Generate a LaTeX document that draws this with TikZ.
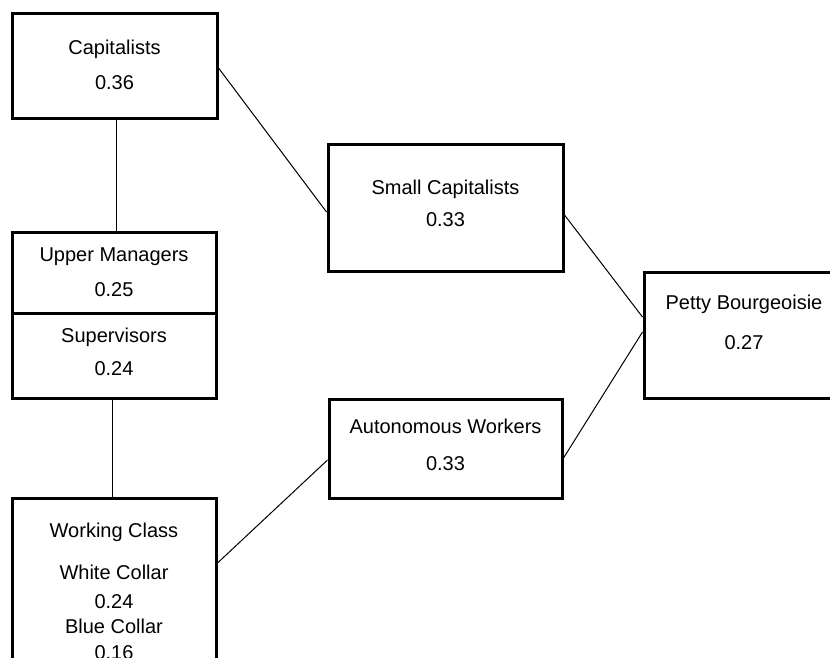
\documentclass[tikz,border=0pt]{standalone}
\usepackage{fontspec}
\setmainfont{Liberation Sans}
\usepackage{tikz}
\usetikzlibrary{positioning}
\newdimen\px
\px=0.75pt

\begin{document}
\begin{tikzpicture}[
  x=1\px, y=-1\px,
  box/.style={draw,line width=3\px,align=center,inner sep=0pt,font=\fontsize{15}{18}\selectfont},
  link/.style={line width=1\px}
]
\useasboundingbox (0,0) rectangle (830,657);
\clip (0,0) rectangle (830,657);
\node[box, minimum width=205\px, minimum height=105\px, text depth=1.5pt] (cap) at (114.5,65.5) {Capitalists\\[8.25pt]0.36};
\node[box, minimum width=204\px, minimum height=81\px] (um) at (114,272.5) {Upper Managers\\[8.25pt]0.25};
\node[box, minimum width=204\px, minimum height=85\px, text depth=6pt] (sup) at (114,355.5) {Supervisors\\[6.75pt]0.24};
\node[box, minimum width=204\px, minimum height=186\px] (wc) at (114,591) {Working Class\\[13.5pt]White Collar\\[3.75pt]0.24\\[0.75pt]Blue Collar\\[1.5pt]0.16};
\node[box, minimum width=235\px, minimum height=127\px, text depth=6.75pt] (sc) at (445.5,207.5) {Small Capitalists\\[6pt]0.33};
\node[box, minimum width=233\px, minimum height=99\px, text depth=6pt] (aw) at (445.5,448.5) {Autonomous Workers\\[9.75pt]0.33};
\node[box, minimum width=200\px, minimum height=126\px, text depth=19.5pt] (pb) at (744,335) {Petty Bourgeoisie\\[12pt]0.27};

\draw[link] ([xshift=1.5\px]cap.south) -- ([xshift=1.5\px]cap.south |- um.north);
\draw[link] ([xshift=-2\px]sup.south) -- ([xshift=-2\px]sup.south |- wc.north);
\draw[link] ([yshift=-2.5\px]cap.east) -- ([yshift=-4.5\px]sc.west);
\draw[link] ([yshift=-7.5\px]sc.east) -- ([yshift=18\px]pb.west);
\draw[link] ([yshift=-9.5\px]aw.east) -- ([yshift=3\px]pb.west);
\draw[link] ([yshift=28\px]wc.east) -- ([yshift=-11.5\px]aw.west);
\end{tikzpicture}
\end{document}
